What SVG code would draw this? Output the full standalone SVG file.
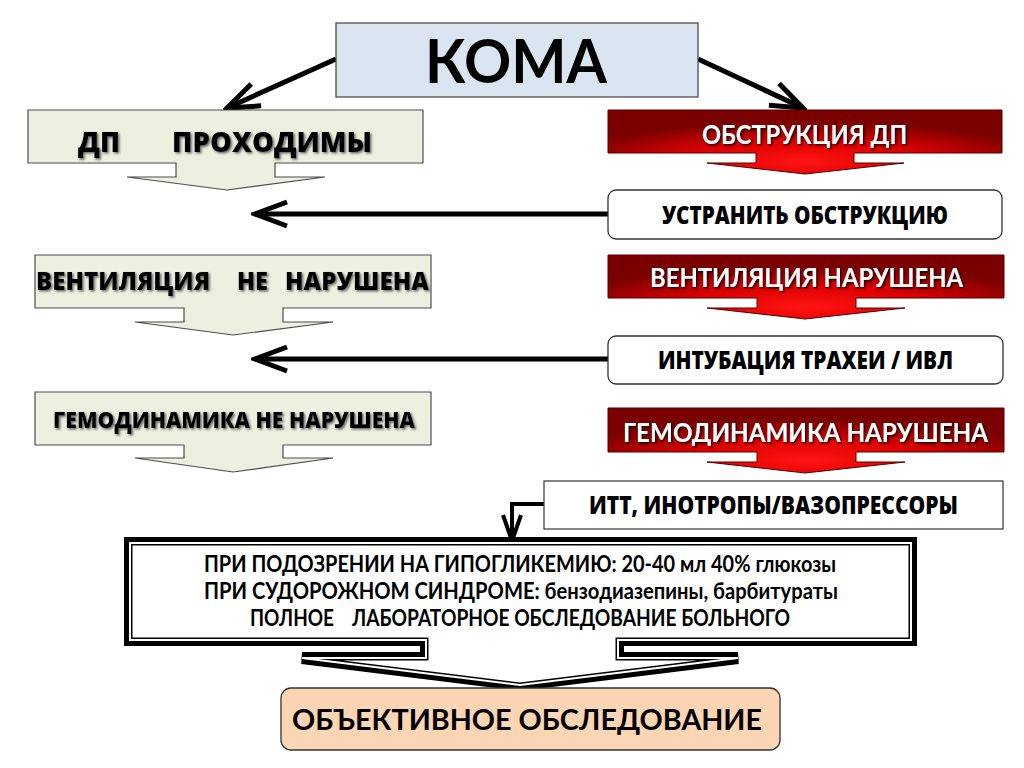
<svg xmlns="http://www.w3.org/2000/svg" width="1024" height="768" viewBox="0 0 1024 768">
<style>
.t{font-family:"Open Sans",Lato,"Liberation Sans",sans-serif;font-weight:800}
.m{font-family:Lato,"Open Sans","Liberation Sans",sans-serif;font-weight:bold}
.dark{fill:#000}
.white{fill:#fff}
.green{fill:#edf0de;stroke:#4d4d4d;stroke-width:1.2}
.red{fill:url(#redg);stroke:#5a0000;stroke-width:1}
.plain{fill:#fff;stroke:#333;stroke-width:1.3}
.conn{fill:none;stroke:#000;stroke-width:5}
</style>
<defs>
<radialGradient id="redg" cx="0.5" cy="0.8" r="0.62" fx="0.5" fy="0.8">
<stop offset="0" stop-color="#ff1414"/>
<stop offset="0.5" stop-color="#dc0000"/>
<stop offset="1" stop-color="#7a0000"/>
</radialGradient>
<filter id="sh" x="-5%" y="-20%" width="110%" height="150%">
<feDropShadow dx="1.5" dy="1.5" stdDeviation="0.8" flood-color="#666"/>
</filter>
<filter id="shw" x="-5%" y="-20%" width="110%" height="150%">
<feDropShadow dx="1.5" dy="1.5" stdDeviation="0.8" flood-color="#000" flood-opacity="0.85"/>
</filter>
<marker id="chev" markerUnits="userSpaceOnUse" markerWidth="44" markerHeight="40" viewBox="-40 -20 44 40" refX="0" refY="0" orient="auto">
<path d="M-32,-12 L0,0 L-32,12" fill="none" stroke="#000" stroke-width="5" stroke-linejoin="miter"/>
</marker>
<marker id="chevs" markerUnits="userSpaceOnUse" markerWidth="36" markerHeight="30" viewBox="-32 -15 36 30" refX="0" refY="0" orient="auto">
<path d="M-26,-9 L0,0 L-26,9" fill="none" stroke="#000" stroke-width="4" stroke-linejoin="miter"/>
</marker>
</defs>
<rect width="1024" height="768" fill="#fff"/>

<g id="connectors">
<path class="conn" d="M336,59 L227,108" marker-end="url(#chev)"/>
<path class="conn" d="M698,59 L803,108" marker-end="url(#chev)"/>
<path class="conn" d="M608,214 H255" marker-end="url(#chev)"/>
<path class="conn" d="M608,359 H255" marker-end="url(#chev)"/>
<path class="conn" style="stroke-width:4" d="M544,504 H512 V541" marker-end="url(#chevs)"/>
</g>

<g id="koma">
<rect x="336" y="23" width="362" height="74" fill="#dbe5f1" stroke="#4d4d4d" stroke-width="1.3"/>
<text class="m dark" x="425" y="83" font-size="62" textLength="182" lengthAdjust="spacingAndGlyphs">КОМА</text>
</g>

<g id="dp-open">
<path class="green" d="M28,110 H423 V163 H275 V177 H325 L227,190 L127,177 H176 V163 H28 Z"/>
<text class="t dark" font-size="28" y="152" filter="url(#sh)"><tspan x="78" textLength="42" lengthAdjust="spacingAndGlyphs">ДП</tspan><tspan x="172" textLength="200" lengthAdjust="spacingAndGlyphs">ПРОХОДИМЫ</tspan></text>
</g>

<g id="vent-ok">
<path class="green" d="M35,255 H431 V308 H283 V322 H333 L233,335 L135,322 H184 V308 H35 Z"/>
<text class="t dark" font-size="25" y="290" filter="url(#sh)"><tspan x="36" textLength="174" lengthAdjust="spacingAndGlyphs">ВЕНТИЛЯЦИЯ</tspan><tspan x="237" textLength="31" lengthAdjust="spacingAndGlyphs">НЕ</tspan><tspan x="285" textLength="144" lengthAdjust="spacingAndGlyphs">НАРУШЕНА</tspan></text>
</g>

<g id="hemo-ok">
<path class="green" d="M35,392 H431 V445 H283 V458 H333 L233,472 L135,458 H184 V445 H35 Z"/>
<text class="t dark" x="53" y="428" font-size="23" textLength="362" lengthAdjust="spacingAndGlyphs" filter="url(#sh)">ГЕМОДИНАМИКА НЕ НАРУШЕНА</text>
</g>

<g id="obstr">
<path class="red" d="M608,110 H1002 V153 H854 V163 H904 L805,174 L707,163 H756 V153 H608 Z"/>
<text class="m white" x="702" y="144" font-size="26" textLength="205" lengthAdjust="spacingAndGlyphs" filter="url(#shw)">ОБСТРУКЦИЯ ДП</text>
</g>

<g id="remove">
<rect class="plain" x="608" y="190" width="394" height="49" rx="8"/>
<text class="t dark" x="662" y="224" font-size="25" textLength="286" lengthAdjust="spacingAndGlyphs">УСТРАНИТЬ ОБСТРУКЦИЮ</text>
</g>

<g id="vent-bad">
<path class="red" d="M608,255 H1004 V298 H856 V308 H905 L805,319 L707,308 H757 V298 H608 Z"/>
<text class="m white" x="650" y="287" font-size="26" textLength="313" lengthAdjust="spacingAndGlyphs" filter="url(#shw)">ВЕНТИЛЯЦИЯ НАРУШЕНА</text>
</g>

<g id="intub">
<rect class="plain" x="608" y="336" width="395" height="48" rx="8"/>
<text class="t dark" x="658" y="369" font-size="24" textLength="295" lengthAdjust="spacingAndGlyphs">ИНТУБАЦИЯ ТРАХЕИ / ИВЛ</text>
</g>

<g id="hemo-bad">
<path class="red" d="M608,408 H1004 V452 H856 V462 H905 L805,473 L707,462 H757 V452 H608 Z"/>
<text class="m white" x="623" y="442" font-size="26" textLength="365" lengthAdjust="spacingAndGlyphs" filter="url(#shw)">ГЕМОДИНАМИКА НАРУШЕНА</text>
</g>

<g id="itt">
<rect x="544" y="481" width="459" height="48" fill="#fff" stroke="#444" stroke-width="1.3"/>
<text class="t dark" x="589" y="514" font-size="24" textLength="369" lengthAdjust="spacingAndGlyphs">ИТТ, ИНОТРОПЫ/ВАЗОПРЕССОРЫ</text>
</g>

<g id="treatment">
<path d="M130,543 H911 V640 H618 V658 H738 L520,685 L302,658 H426 V640 H130 Z" fill="none" stroke="#000" stroke-width="12"/>
<path d="M130,543 H911 V640 H618 V658 H738 L520,685 L302,658 H426 V640 H130 Z" fill="#fff" stroke="#000" stroke-width="5"/>
<path d="M130,543 H911 V640 H618 V658 H738 L520,685 L302,658 H426 V640 H130 Z" fill="none" stroke="#fff" stroke-width="2"/>
<text class="m dark" x="204" y="572" font-size="22" textLength="632" lengthAdjust="spacingAndGlyphs">ПРИ ПОДОЗРЕНИИ НА ГИПОГЛИКЕМИЮ:  20-40 мл 40% глюкозы</text>
<text class="m dark" x="204" y="599" font-size="22" textLength="634" lengthAdjust="spacingAndGlyphs">ПРИ СУДОРОЖНОМ СИНДРОМЕ: бензодиазепины, барбитураты</text>
<text class="m dark" y="626" font-size="22"><tspan x="250" textLength="84" lengthAdjust="spacingAndGlyphs">ПОЛНОЕ</tspan><tspan x="352" textLength="438" lengthAdjust="spacingAndGlyphs">ЛАБОРАТОРНОЕ ОБСЛЕДОВАНИЕ БОЛЬНОГО</tspan></text>
</g>

<g id="exam">
<rect x="281" y="688" width="499" height="62" rx="10" fill="#fcd5b5" stroke="#333" stroke-width="1.3"/>
<text class="m dark" x="292" y="730" font-size="28" textLength="470" lengthAdjust="spacingAndGlyphs">ОБЪЕКТИВНОЕ ОБСЛЕДОВАНИЕ</text>
</g>
</svg>
